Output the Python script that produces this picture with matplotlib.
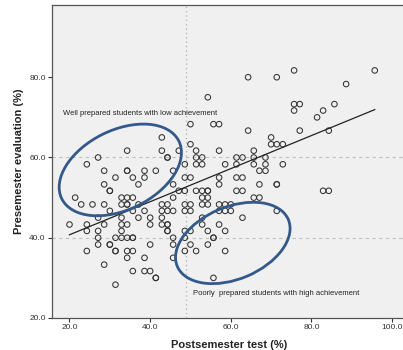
import matplotlib
matplotlib.use("Agg")
import matplotlib.pyplot as plt
from matplotlib.patches import Ellipse
import numpy as np

# postsemester test (%) vs presemester evaluation (%)
post = [75.7, 95.7, 64.3, 71.4, 88.6, 54.3,
        75.7, 77.1, 85.7, 75.7, 82.9, 81.4,
        50.0, 55.7, 57.1, 64.3, 77.1, 84.3, 42.9, 70.0,
        50.0, 70.0, 71.4, 72.9,
        34.3, 42.9, 47.1, 51.4, 57.1, 65.7,
        27.1, 44.3, 44.3, 51.4, 52.9, 61.4, 62.9, 65.7, 68.6,
        24.3, 48.6, 51.4, 52.9, 58.6, 61.4, 65.7, 68.6, 72.9,
        28.6, 34.3, 34.3, 38.6, 41.4, 45.7, 67.1, 68.6,
        31.4, 35.7, 38.6, 48.6, 50.0, 57.1, 61.4, 62.9,
        28.6, 37.1, 45.7, 57.1, 67.1, 71.4, 71.4,
        30.0, 30.0, 47.1, 48.6, 51.4, 52.9, 54.3, 54.3, 61.4, 62.9, 82.9, 84.3,
        21.4, 32.9, 34.3, 35.7, 45.7, 52.9, 54.3, 65.7, 67.1,
        22.9, 25.7, 28.6, 32.9, 34.3, 34.3, 37.1, 42.9, 44.3, 48.6, 50.0,
        52.9, 54.3, 57.1, 58.6, 60.0,
        30.0, 35.7, 38.6, 42.9, 44.3, 45.7, 48.6, 50.0, 57.1, 58.6, 60.0, 71.4,
        27.1, 32.9, 37.1, 40.0, 42.9, 52.9, 62.9,
        20.0, 24.3, 28.6, 32.9, 34.3, 40.0, 42.9, 44.3, 44.3, 52.9, 57.1,
        24.3, 27.1, 32.9, 44.3, 44.3, 48.6, 50.0, 54.3, 58.6,
        27.1, 31.4, 32.9, 34.3, 35.7, 35.7, 45.7, 48.6, 55.7, 55.7,
        27.1, 30.0, 30.0, 40.0, 45.7, 50.0, 54.3,
        24.3, 31.4, 31.4, 34.3, 35.7, 48.6, 51.4, 58.6,
        34.3, 38.6, 45.7,
        28.6,
        35.7, 38.6, 40.0,
        41.4, 41.4, 55.7,
        31.4]
pre = [81.7, 81.7, 80.0, 80.0, 78.3, 75.0,
       73.3, 73.3, 73.3, 71.7, 71.7, 70.0,
       68.3, 68.3, 68.3, 66.7, 66.7, 66.7, 65.0, 65.0,
       63.3, 63.3, 63.3, 63.3,
       61.7, 61.7, 61.7, 61.7, 61.7, 61.7,
       60.0, 60.0, 60.0, 60.0, 60.0, 60.0, 60.0, 60.0, 60.0,
       58.3, 58.3, 58.3, 58.3, 58.3, 58.3, 58.3, 58.3, 58.3,
       56.7, 56.7, 56.7, 56.7, 56.7, 56.7, 56.7, 56.7,
       55.0, 55.0, 55.0, 55.0, 55.0, 55.0, 55.0, 55.0,
       53.3, 53.3, 53.3, 53.3, 53.3, 53.3, 53.3,
       51.7, 51.7, 51.7, 51.7, 51.7, 51.7, 51.7, 51.7, 51.7, 51.7, 51.7, 51.7,
       50.0, 50.0, 50.0, 50.0, 50.0, 50.0, 50.0, 50.0, 50.0,
       48.3, 48.3, 48.3, 48.3, 48.3, 48.3, 48.3, 48.3, 48.3, 48.3, 48.3,
       48.3, 48.3, 48.3, 48.3, 48.3,
       46.7, 46.7, 46.7, 46.7, 46.7, 46.7, 46.7, 46.7, 46.7, 46.7, 46.7, 46.7,
       45.0, 45.0, 45.0, 45.0, 45.0, 45.0, 45.0,
       43.3, 43.3, 43.3, 43.3, 43.3, 43.3, 43.3, 43.3, 43.3, 43.3, 43.3,
       41.7, 41.7, 41.7, 41.7, 41.7, 41.7, 41.7, 41.7, 41.7,
       40.0, 40.0, 40.0, 40.0, 40.0, 40.0, 40.0, 40.0, 40.0, 40.0,
       38.3, 38.3, 38.3, 38.3, 38.3, 38.3, 38.3,
       36.7, 36.7, 36.7, 36.7, 36.7, 36.7, 36.7, 36.7,
       35.0, 35.0, 35.0,
       33.3,
       31.7, 31.7, 31.7,
       30.0, 30.0, 30.0,
       28.3]

# fit line and reference lines
fit_range = [20.0, 95.7]
fit_slope = 0.412
fit_intercept = 32.5
ref_x = 48.8
ref_y = [60.0, 40.0]

xticks = [20, 40, 60, 80, 100]
yticks = [20, 40, 60, 80]

# hand-drawn ellipses: centre, width, height, angle
ell_centres = [(32.6, 56.9), (60.5, 38.7)]
ell_widths = [32.4, 29.9]
ell_heights = [19.8, 18.0]
ell_angles = [26.4, 23.0]

notes = ["Well prepared students with low achievement",
         "Poorly  prepared students with high achievement"]
note_pos = [(18.3, 70.9), (50.7, 26.1)]

plt.rcParams['font.family'] = ['Liberation Sans', 'DejaVu Sans']

fig = plt.figure(figsize=(4.03, 3.5), dpi=100)
ax = fig.add_axes([52 / 403, 32 / 350, 355 / 403, 313 / 350])
ax.set_facecolor("#f0f0f0")

ax.axvline(ref_x, color="#b0b0b0", lw=0.9, ls=(0, (1, 2.5)), zorder=1)
for yv in ref_y:
    ax.axhline(yv, color="#c0c0c0", lw=0.8, ls=(0, (3, 3)), zorder=1)

ax.scatter(post, pre, s=16, facecolors="none", edgecolors="#333333",
           linewidths=0.75, zorder=3)

fx = np.array(fit_range)
ax.plot(fx, fit_intercept + fit_slope * fx, color="#222222", lw=0.9, zorder=4)

for c, w, h, a in zip(ell_centres, ell_widths, ell_heights, ell_angles):
    ax.add_patch(Ellipse(c, w, h, angle=a, fill=False, edgecolor="#33598a",
                         lw=2.0, zorder=5))

for t, (tx, ty) in zip(notes, note_pos):
    ax.text(tx, ty, t, fontsize=5.5, color="#222222", va="center",
            ha="left", zorder=6)

ax.set_xlim(15.66, 103.7)
ax.set_ylim(20, 98)
ax.set_xticks(xticks)
ax.set_yticks(yticks)
ax.set_xticklabels([f"{v:.1f}" for v in xticks])
ax.set_yticklabels([f"{v:.1f}" for v in yticks])
ax.tick_params(labelsize=6, colors="#333333", length=3, width=0.8, pad=1.5)
for sp in ax.spines.values():
    sp.set_color("#555555")
    sp.set_linewidth(0.9)
ax.spines["right"].set_visible(False)

ax.set_xlabel("Postsemester test (%)", fontsize=8, fontweight="bold",
              labelpad=6, color="#222222")
ax.set_ylabel("Presemester evaluation (%)", fontsize=8, fontweight="bold",
              labelpad=4, color="#222222")

fig.savefig("out.png", dpi=100)
